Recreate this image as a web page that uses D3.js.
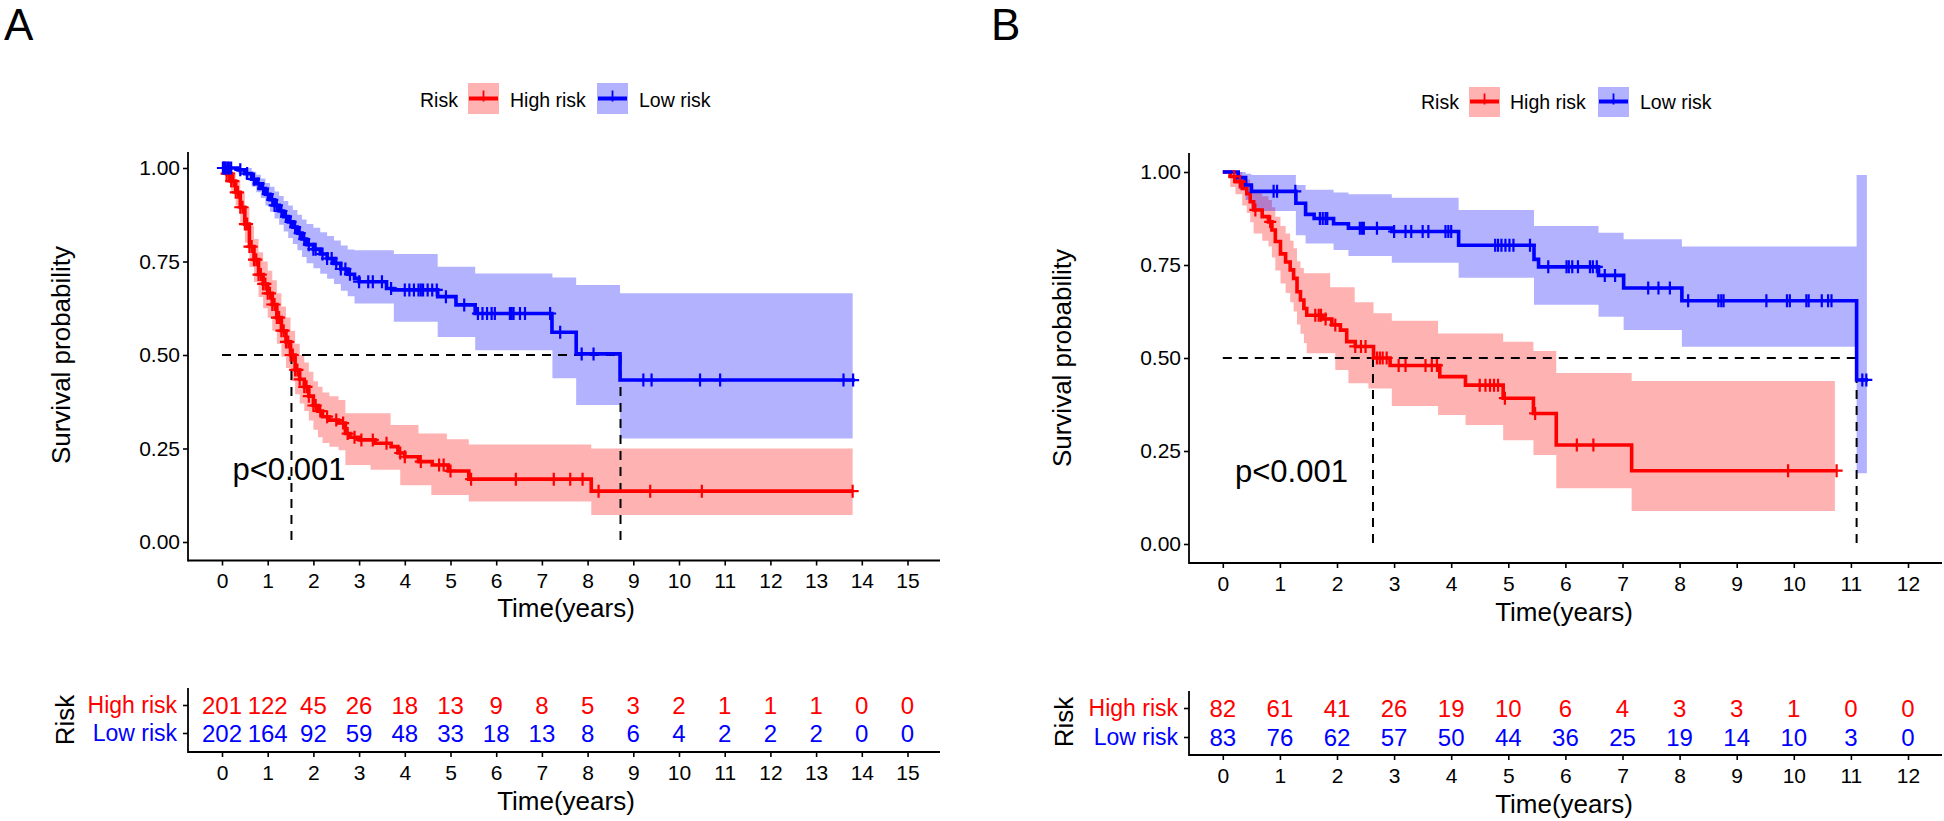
<!DOCTYPE html>
<html>
<head>
<meta charset="utf-8">
<script src="https://cdn.jsdelivr.net/npm/d3@7"></script>
<style>
html,body{margin:0;padding:0;background:#fff;}
svg{display:block;font-family:"Liberation Sans",Arial,Helvetica,sans-serif;}
</style>
</head>
<body>
<svg id="chart" width="1944" height="821"></svg>
<script>
// ---------------- DATA ----------------
const panelLetters = ["A", "B"];
const legendTitle = "Risk";
const groupNames = ["High risk", "Low risk"];
const pValues = ["p<0.001", "p<0.001"];
const xTitle = "Time(years)";
const yTitle = "Survival probability";
const tableTitle = "Risk";
const survTicks = [0, 0.25, 0.5, 0.75, 1];

// Panel A
const yearsA = [0,1,2,3,4,5,6,7,8,9,10,11,12,13,14,15];
const atRiskHighA = [201,122,45,26,18,13,9,8,5,3,2,1,1,1,0,0];
const atRiskLowA  = [202,164,92,59,48,33,18,13,8,6,4,2,2,2,0,0];
const medianA = [1.52, 8.72];

const highA_t = [0,0.1,0.2,0.3,0.4,0.5,0.6,0.7,0.8,0.9,1.0,1.1,1.2,1.3,1.4,1.5,1.6,1.7,1.8,1.9,2.0,2.1,2.2,2.35,2.55,2.7,2.8,3.0,3.35,3.7,3.85,4.0,4.3,4.6,4.95,5.4,8.08];
const highA_s = [1,0.985,0.965,0.935,0.895,0.85,0.79,0.755,0.715,0.69,0.665,0.635,0.6,0.565,0.535,0.5,0.46,0.435,0.415,0.39,0.365,0.35,0.335,0.326,0.318,0.29,0.28,0.273,0.264,0.255,0.238,0.228,0.215,0.206,0.19,0.168,0.136];
const highA_end = 13.8;
const highA_cens = [0.05,0.1,0.15,0.2,0.25,0.3,0.35,0.4,0.45,0.5,0.55,0.6,0.65,0.7,0.75,0.8,0.85,0.9,0.95,1.0,1.05,1.1,1.15,1.2,1.25,1.3,1.35,1.4,1.45,1.5,1.55,1.6,1.65,1.7,1.8,1.85,1.9,2.0,2.05,2.15,2.3,2.5,2.65,2.75,2.9,3.05,3.3,3.6,3.9,4.0,4.35,4.75,4.85,5.0,5.45,6.43,7.26,7.62,7.89,8.24,9.37,10.5,13.8];
const highA_ciT  = [0,0.1,0.2,0.3,0.4,0.5,0.6,0.7,0.8,0.9,1.0,1.1,1.2,1.3,1.4,1.5,1.6,1.7,1.8,1.9,2.0,2.1,2.2,2.35,2.55,2.7,3.25,3.69,3.9,4.3,4.58,4.92,5.4,8.08];
const highA_ciLo = [1,0.96,0.935,0.9,0.85,0.8,0.735,0.695,0.655,0.625,0.6,0.565,0.53,0.495,0.465,0.43,0.395,0.37,0.35,0.325,0.3,0.28,0.265,0.255,0.245,0.206,0.193,0.193,0.152,0.152,0.126,0.126,0.108,0.072];
const highA_ciHi = [1,1,0.99,0.965,0.935,0.895,0.845,0.81,0.775,0.75,0.725,0.7,0.665,0.63,0.6,0.565,0.53,0.5,0.48,0.455,0.43,0.415,0.4,0.39,0.38,0.344,0.344,0.313,0.313,0.29,0.29,0.275,0.261,0.25];
const highA_ciEnd = 13.8;

const lowA_t = [0,0.35,0.5,0.65,0.75,0.85,0.95,1.05,1.15,1.25,1.35,1.45,1.55,1.65,1.75,1.85,2.0,2.15,2.3,2.45,2.6,2.75,2.9,3.0,3.6,3.76,4.72,5.12,5.54,7.22,7.75,8.71];
const lowA_s = [1,0.995,0.985,0.97,0.958,0.945,0.93,0.915,0.9,0.885,0.87,0.856,0.842,0.826,0.81,0.795,0.783,0.77,0.758,0.745,0.73,0.716,0.705,0.696,0.678,0.674,0.656,0.634,0.611,0.561,0.503,0.433];
const lowA_end = 13.85;
const lowA_cens = [0.02,0.05,0.08,0.12,0.15,0.2,0.4,0.55,0.7,0.8,0.9,1.0,1.1,1.15,1.2,1.3,1.4,1.5,1.6,1.7,1.8,1.9,2.0,2.05,2.2,2.3,2.4,2.5,2.6,2.7,2.8,3.0,3.2,3.3,3.5,3.7,4.0,4.1,4.2,4.3,4.35,4.4,4.5,4.6,4.7,4.9,5.3,5.6,5.7,5.8,5.9,5.97,6.3,6.34,6.38,6.52,6.63,7.18,7.4,7.87,8.13,9.22,9.4,10.46,10.9,13.6,13.81];
const lowA_ciT  = [0,0.35,0.5,0.65,0.75,0.85,0.95,1.05,1.15,1.25,1.35,1.45,1.55,1.65,1.75,1.85,2.0,2.15,2.3,2.45,2.6,2.75,2.9,3.76,4.72,5.54,7.23,7.75,8.71];
const lowA_ciLo = [1,0.985,0.97,0.95,0.935,0.92,0.9,0.883,0.865,0.848,0.83,0.813,0.797,0.78,0.762,0.745,0.732,0.717,0.704,0.69,0.672,0.657,0.638,0.589,0.548,0.513,0.438,0.366,0.277];
const lowA_ciHi = [1,1,1,0.99,0.982,0.972,0.96,0.95,0.937,0.925,0.912,0.9,0.888,0.875,0.862,0.85,0.84,0.828,0.818,0.806,0.793,0.782,0.78,0.77,0.736,0.718,0.707,0.687,0.665];
const lowA_ciEnd = 13.8;

// Panel B
const yearsB = [0,1,2,3,4,5,6,7,8,9,10,11,12];
const atRiskHighB = [82,61,41,26,19,10,6,4,3,3,1,0,0];
const atRiskLowB  = [83,76,62,57,50,44,36,25,19,14,10,3,0];
const medianB = [2.63, 11.1];

const highB_t = [0,0.13,0.22,0.34,0.42,0.48,0.54,0.69,0.8,0.86,0.92,1.01,1.1,1.18,1.24,1.3,1.36,1.42,1.47,1.75,1.91,2.06,2.17,2.32,2.64,2.93,3.8,4.25,4.91,5.44,5.84,7.16];
const highB_s = [1,0.988,0.974,0.956,0.942,0.92,0.898,0.88,0.866,0.844,0.813,0.78,0.758,0.737,0.714,0.678,0.656,0.633,0.615,0.605,0.589,0.575,0.544,0.531,0.5,0.48,0.45,0.427,0.392,0.351,0.266,0.197];
const highB_end = 10.75;
const highB_cens = [0.2,0.3,0.57,0.83,1.62,1.68,1.72,1.8,1.97,2.32,2.42,2.5,2.7,2.75,2.8,2.87,3.08,3.2,3.55,3.66,3.75,4.5,4.6,4.68,4.75,4.82,4.94,5.47,6.2,6.49,9.9,10.75];
const highB_ciT  = [0,0.13,0.22,0.34,0.42,0.48,0.54,0.69,0.8,0.86,0.92,1.01,1.1,1.18,1.24,1.3,1.36,1.42,1.47,1.88,1.97,2.2,2.31,2.55,2.64,2.96,3.77,4.25,4.91,5.44,5.84,7.16];
const highB_ciLo = [1,0.96,0.94,0.91,0.89,0.865,0.835,0.815,0.8,0.77,0.735,0.7,0.675,0.65,0.625,0.59,0.565,0.54,0.513,0.513,0.468,0.432,0.432,0.418,0.418,0.371,0.347,0.32,0.279,0.239,0.15,0.089];
const highB_ciHi = [1,1,1,0.99,0.98,0.965,0.95,0.935,0.925,0.905,0.88,0.855,0.835,0.815,0.795,0.76,0.742,0.728,0.728,0.69,0.69,0.69,0.65,0.65,0.62,0.6,0.566,0.566,0.544,0.519,0.46,0.438];
const highB_ciEnd = 10.72;

const lowB_t = [0,0.27,0.4,0.5,1.28,1.45,1.6,1.94,2.2,2.96,4.13,5.45,5.53,6.58,7.02,8.04,11.1];
const lowB_s = [1,0.985,0.965,0.948,0.916,0.886,0.875,0.861,0.849,0.84,0.803,0.765,0.745,0.722,0.688,0.654,0.441];
const lowB_end = 11.3;
const lowB_cens = [0.89,0.95,1.27,1.7,1.75,1.8,1.83,2.4,2.44,2.47,2.7,3.0,3.2,3.3,3.5,3.6,3.9,3.95,4.0,4.77,4.82,4.88,4.95,5.02,5.09,5.38,5.7,6.02,6.06,6.12,6.22,6.43,6.48,6.55,6.69,6.87,7.45,7.63,7.83,8.15,8.68,8.73,8.77,9.52,9.88,9.93,10.22,10.26,10.49,10.6,10.66,11.2,11.27];
const lowB_ciT  = [0,0.27,0.4,0.5,1.28,1.45,1.94,2.2,2.96,4.13,5.45,6.58,7.02,8.04,11.1];
const lowB_ciLo = [1,0.955,0.925,0.895,0.83,0.808,0.79,0.774,0.756,0.716,0.643,0.611,0.575,0.53,0.19];
const lowB_ciHi = [1,1,0.995,0.992,0.965,0.952,0.945,0.94,0.931,0.898,0.855,0.837,0.819,0.8,0.992];
const lowB_ciEnd = 11.28;

const groupColors = ["#FF0000", "#0000FF"];

// ---------------- BUILD ----------------
const dataA = {
  letter: panelLetters[0], p: pValues[0], years: yearsA, medians: medianA,
  risk: [atRiskHighA, atRiskLowA],
  groups: [
    {t: highA_t, s: highA_s, end: highA_end, cens: highA_cens, ciT: highA_ciT, ciLo: highA_ciLo, ciHi: highA_ciHi, ciEnd: highA_ciEnd},
    {t: lowA_t, s: lowA_s, end: lowA_end, cens: lowA_cens, ciT: lowA_ciT, ciLo: lowA_ciLo, ciHi: lowA_ciHi, ciEnd: lowA_ciEnd}
  ]
};
const dataB = {
  letter: panelLetters[1], p: pValues[1], years: yearsB, medians: medianB,
  risk: [atRiskHighB, atRiskLowB],
  groups: [
    {t: highB_t, s: highB_s, end: highB_end, cens: highB_cens, ciT: highB_ciT, ciLo: highB_ciLo, ciHi: highB_ciHi, ciEnd: highB_ciEnd},
    {t: lowB_t, s: lowB_s, end: lowB_end, cens: lowB_cens, ciT: lowB_ciT, ciLo: lowB_ciLo, ciHi: lowB_ciHi, ciEnd: lowB_ciEnd}
  ]
};

// layout (pixels)
const layoutA = {
  letterX: 4, letterY: 40,
  legY: 98.5, legBase: 106.5, legTitleX: 420, legBox: [468, 597], legText: [510, 639], legBoxTop: 83, legBoxH: 31,
  axL: 188, axR: 940, x0: 222, x1: 907.5,
  yTop: 152, yBase: 560.5, y0: 542, y1: 168,
  yTitleX: 70, yTitleY: 355, xTitleX: 566, xTitleY: 617,
  pX: 232.5, pY: 480,
  tTop: 688, tBase: 752, tRows: [705, 733], tTitleX: 73.5, tTitleY: 720, tXTitleY: 810
};
const layoutB = {
  letterX: 991, letterY: 40,
  legY: 101.5, legBase: 109.3, legTitleX: 1421, legBox: [1469, 1598], legText: [1510, 1640], legBoxTop: 87, legBoxH: 30,
  axL: 1189, axR: 1942, x0: 1222.8, x1: 1908,
  yTop: 153, yBase: 563, y0: 544, y1: 172,
  yTitleX: 1071, yTitleY: 358, xTitleX: 1564, xTitleY: 621,
  pX: 1235, pY: 482,
  tTop: 691, tBase: 755, tRows: [708, 737], tTitleX: 1072.5, tTitleY: 722, tXTitleY: 813
};

function stepAt(ts, ss, t) {
  let v = ss[0];
  for (let i = 0; i < ts.length; i++) if (ts[i] <= t + 1e-9) v = ss[i];
  return v;
}

const svg = d3.select("#chart");

function drawPanel(L, D) {
  const g = svg.append("g");
  const tMax = D.years[D.years.length - 1];
  const x = d3.scaleLinear().domain([0, tMax]).range([L.x0, L.x1]);
  const y = d3.scaleLinear().domain([0, 1]).range([L.y0, L.y1]);

  // panel letter
  g.append("text").attr("x", L.letterX).attr("y", L.letterY)
    .attr("font-size", 44).attr("fill", "#000").text(D.letter);

  // legend
  g.append("text").attr("x", L.legTitleX).attr("y", L.legBase)
    .attr("font-size", 19.5).attr("fill", "#000").text(legendTitle);
  groupNames.forEach((nm, i) => {
    const bx = L.legBox[i], bw = 31;
    g.append("rect").attr("x", bx).attr("y", L.legBoxTop).attr("width", bw).attr("height", L.legBoxH)
      .attr("fill", groupColors[i]).attr("fill-opacity", 0.3);
    g.append("line").attr("x1", bx + 1).attr("x2", bx + bw - 1).attr("y1", L.legY).attr("y2", L.legY)
      .attr("stroke", groupColors[i]).attr("stroke-width", 4);
    g.append("line").attr("x1", bx + bw / 2).attr("x2", bx + bw / 2).attr("y1", L.legY - 8).attr("y2", L.legY + 3)
      .attr("stroke", groupColors[i]).attr("stroke-width", 1.8);
    g.append("text").attr("x", L.legText[i]).attr("y", L.legBase)
      .attr("font-size", 19.5).attr("fill", "#000").text(nm);
  });

  // confidence bands
  D.groups.forEach((gr, i) => {
    const pts = gr.ciT.map((t, k) => ({t: t, lo: gr.ciLo[k], hi: gr.ciHi[k]}));
    pts.push({t: gr.ciEnd, lo: gr.ciLo[gr.ciLo.length - 1], hi: gr.ciHi[gr.ciHi.length - 1]});
    const area = d3.area().curve(d3.curveStepAfter)
      .x(d => x(d.t)).y0(d => y(d.lo)).y1(d => y(d.hi));
    g.append("path").attr("d", area(pts))
      .attr("fill", groupColors[i]).attr("fill-opacity", 0.3).attr("stroke", "none");
  });

  // median lines
  const dash = "9,7";
  g.append("line").attr("x1", x(0)).attr("x2", x(d3.max(D.medians)))
    .attr("y1", y(0.5)).attr("y2", y(0.5))
    .attr("stroke", "#000").attr("stroke-width", 2).attr("stroke-dasharray", dash);
  D.medians.forEach(m => {
    g.append("line").attr("x1", x(m)).attr("x2", x(m)).attr("y1", y(0.5)).attr("y2", y(0))
      .attr("stroke", "#000").attr("stroke-width", 2).attr("stroke-dasharray", dash);
  });

  // survival curves
  D.groups.forEach((gr, i) => {
    const pts = gr.t.map((t, k) => [t, gr.s[k]]);
    pts.push([gr.end, gr.s[gr.s.length - 1]]);
    const line = d3.line().curve(d3.curveStepAfter).x(d => x(d[0])).y(d => y(d[1]));
    g.append("path").attr("d", line(pts)).attr("fill", "none")
      .attr("stroke", groupColors[i]).attr("stroke-width", 3.6);
  });

  // censor marks
  D.groups.forEach((gr, i) => {
    const cg = g.append("g").attr("stroke", groupColors[i]).attr("stroke-width", 2.2);
    gr.cens.forEach(c => {
      const cx = x(c), cy = y(stepAt(gr.t, gr.s, c));
      cg.append("path").attr("d", `M${cx - 6},${cy}H${cx + 6}M${cx},${cy - 6.5}V${cy + 6.5}`);
    });
  });

  // p value
  g.append("text").attr("x", L.pX).attr("y", L.pY).attr("font-size", 31).attr("fill", "#000").text(D.p);

  // axes (main)
  const axisW = 1.8;
  const yAx = g.append("g").attr("transform", `translate(${L.axL},0)`)
    .call(d3.axisLeft(y).tickValues(survTicks).tickFormat(d3.format(".2f")).tickSize(5).tickPadding(3));
  const xAx = g.append("g").attr("transform", `translate(0,${L.yBase})`)
    .call(d3.axisBottom(x).tickValues(D.years).tickFormat(d3.format("d")).tickSize(5).tickPadding(8));
  [yAx, xAx].forEach(a => {
    a.select(".domain").remove();
    a.selectAll(".tick line").attr("stroke", "#000").attr("stroke-width", 1.6);
    a.selectAll(".tick text").attr("font-size", 21).attr("fill", "#000")
      .attr("font-family", '"Liberation Sans",Arial,sans-serif');
  });
  g.append("line").attr("x1", L.axL).attr("x2", L.axL).attr("y1", L.yTop).attr("y2", L.yBase + axisW / 2)
    .attr("stroke", "#000").attr("stroke-width", axisW);
  g.append("line").attr("x1", L.axL).attr("x2", L.axR).attr("y1", L.yBase).attr("y2", L.yBase)
    .attr("stroke", "#000").attr("stroke-width", axisW);

  g.append("text").attr("transform", `translate(${L.yTitleX},${L.yTitleY}) rotate(-90)`)
    .attr("text-anchor", "middle").attr("font-size", 26).attr("fill", "#000").text(yTitle);
  g.append("text").attr("x", L.xTitleX).attr("y", L.xTitleY)
    .attr("text-anchor", "middle").attr("font-size", 26).attr("fill", "#000").text(xTitle);

  // risk table
  const rowScale = d3.scaleOrdinal().domain(groupNames).range(L.tRows);
  const tyAx = g.append("g").attr("transform", `translate(${L.axL},0)`)
    .call(d3.axisLeft(rowScale).tickSize(5).tickPadding(6));
  tyAx.select(".domain").remove();
  tyAx.selectAll(".tick line").attr("stroke", "#000").attr("stroke-width", 1.6);
  tyAx.selectAll(".tick text").attr("font-size", 23)
    .attr("font-family", '"Liberation Sans",Arial,sans-serif')
    .attr("fill", (d, i) => groupColors[i]);
  const txAx = g.append("g").attr("transform", `translate(0,${L.tBase})`)
    .call(d3.axisBottom(x).tickValues(D.years).tickFormat(d3.format("d")).tickSize(5).tickPadding(8));
  txAx.select(".domain").remove();
  txAx.selectAll(".tick line").attr("stroke", "#000").attr("stroke-width", 1.6);
  txAx.selectAll(".tick text").attr("font-size", 21).attr("fill", "#000")
    .attr("font-family", '"Liberation Sans",Arial,sans-serif');
  g.append("line").attr("x1", L.axL).attr("x2", L.axL).attr("y1", L.tTop).attr("y2", L.tBase + axisW / 2)
    .attr("stroke", "#000").attr("stroke-width", axisW);
  g.append("line").attr("x1", L.axL).attr("x2", L.axR).attr("y1", L.tBase).attr("y2", L.tBase)
    .attr("stroke", "#000").attr("stroke-width", axisW);

  D.risk.forEach((row, i) => {
    g.append("g").selectAll("text").data(row).join("text")
      .attr("x", (d, k) => x(D.years[k])).attr("y", L.tRows[i])
      .attr("dy", "0.36em").attr("text-anchor", "middle")
      .attr("font-size", 24).attr("fill", groupColors[i]).text(d => d);
  });

  g.append("text").attr("transform", `translate(${L.tTitleX},${L.tTitleY}) rotate(-90)`)
    .attr("text-anchor", "middle").attr("font-size", 26).attr("fill", "#000").text(tableTitle);
  g.append("text").attr("x", L.xTitleX).attr("y", L.tXTitleY)
    .attr("text-anchor", "middle").attr("font-size", 26).attr("fill", "#000").text(xTitle);
}

drawPanel(layoutA, dataA);
drawPanel(layoutB, dataB);
</script>
</body>
</html>
